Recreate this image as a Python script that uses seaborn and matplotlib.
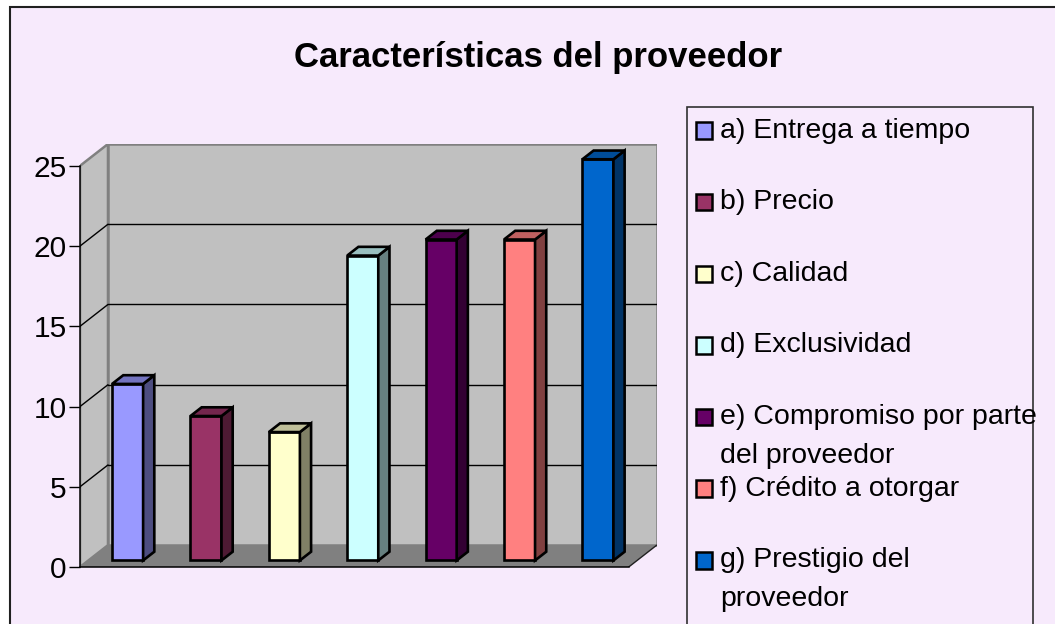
import matplotlib
matplotlib.use("Agg")
import matplotlib.pyplot as plt
from matplotlib.patches import Rectangle, Polygon
from matplotlib.colors import to_rgb
import numpy as np
import pandas as pd
import seaborn as sns

# ---------------- data ----------------
categories = ["a) Entrega a tiempo", "b) Precio", "c) Calidad", "d) Exclusividad",
              "e) Compromiso por parte del proveedor", "f) Crédito a otorgar",
              "g) Prestigio del proveedor"]
legend_labels = ["a) Entrega a tiempo", "b) Precio", "c) Calidad", "d) Exclusividad",
                 "e) Compromiso por parte\ndel proveedor", "f) Crédito a otorgar",
                 "g) Prestigio del\nproveedor"]
values = [11, 9, 8, 19, 20, 20, 25]
bar_colors = ["#9999FF", "#993366", "#FFFFCC", "#CCFFFF", "#660066", "#FF8080", "#0066CC"]
yticks = [0, 5, 10, 15, 20, 25]
title = "Características del proveedor"

# ---------------- style ----------------
W, H = 1055, 624
BG = "#F7EAFC"
sns.set_style("white")
plt.rcParams["font.family"] = ["Liberation Sans", "DejaVu Sans"]

fig = plt.figure(figsize=(W / 100, H / 100), dpi=100, facecolor="white")


def fx(px):
    return px / W


def fy(py):
    return 1 - py / H


# chart area with border
fig.patches.append(Rectangle((fx(9.5), fy(660)), fx(1100 - 9.5), (660 - 6.5) / H,
                             transform=fig.transFigure, facecolor=BG,
                             edgecolor="#202020", lw=1.5, zorder=-5))

# 3D-like plot box
ax = fig.add_axes([fx(80), fy(567), (656.7 - 80) / W, (567 - 144) / H])
ax.set_facecolor("none")
ax.set_zorder(2)
NCAT = len(categories)
DX, DY = 0.357, 1.36        # full depth offset (data units)
F0, F1 = 0.30, 0.70          # bar depth range (fraction of full depth)
TOP = max(yticks)
x0, x1 = -0.5, NCAT - 0.5
EDGE_LW = 1.9

df = pd.DataFrame({"cat": categories, "val": values})
sns.barplot(data=df, x="cat", y="val", hue="cat", palette=bar_colors, saturation=1,
            width=0.396, edgecolor="black", linewidth=EDGE_LW, legend=False, ax=ax,
            zorder=3)

bars = [b for cont in ax.containers for b in cont]
for b, c in zip(bars, bar_colors):
    b.set_x(b.get_x() + F0 * DX)
    b.set_y(F0 * DY)
    b.set_joinstyle("miter")
    xl = b.get_x()
    xr = xl + b.get_width()
    yb = b.get_y()
    yt = yb + b.get_height()
    ddx, ddy = (F1 - F0) * DX, (F1 - F0) * DY
    rgb = np.array(to_rgb(c))
    side = Polygon([(xr, yb), (xr + ddx, yb + ddy), (xr + ddx, yt + ddy), (xr, yt)],
                   closed=True, fc=rgb * 0.5, ec="black", lw=EDGE_LW, zorder=3,
                   joinstyle="miter")
    top = Polygon([(xl, yt), (xr, yt), (xr + ddx, yt + ddy), (xl + ddx, yt + ddy)],
                  closed=True, fc=rgb * 0.75, ec="black", lw=EDGE_LW, zorder=3,
                  joinstyle="miter")
    ax.add_patch(side)
    ax.add_patch(top)

# walls and floor
ax.add_patch(Polygon([(x0, 0), (x0, TOP), (x0 + DX, TOP + DY), (x0 + DX, DY)],
                     closed=True, fc="#C0C0C0", ec="#808080", lw=1.8, zorder=0))
ax.add_patch(Polygon([(x0 + DX, DY), (x1 + DX, DY), (x1 + DX, TOP + DY), (x0 + DX, TOP + DY)],
                     closed=True, fc="#C0C0C0", ec="#808080", lw=1.8, zorder=0))
ax.add_patch(Polygon([(x0, 0), (x1, 0), (x1 + DX, DY), (x0 + DX, DY)],
                     closed=True, fc="#808080", ec="none", zorder=0.5))
ax.plot([x1, x1 + DX], [0, DY], color="#202020", lw=1.0, zorder=1)
for t in yticks[1:-1]:
    ax.plot([x0 + DX, x1 + DX], [t + DY, t + DY], color="black", lw=1.0, zorder=1)
    ax.plot([x0, x0 + DX], [t, t + DY], color="black", lw=1.0, zorder=1)

ax.set_xlim(x0, x1 + DX)
ax.set_ylim(0, TOP + DY)
ax.set_xticks([])
ax.set_xlabel("")
ax.set_ylabel("")
ax.set_yticks(yticks)
ax.set_yticklabels([str(t) for t in yticks])
ax.tick_params(axis="y", length=8, width=1, direction="out", pad=1.5,
               labelsize=21.5, color="black", labelcolor="black", left=True)
for s in ["top", "right"]:
    ax.spines[s].set_visible(False)
ax.spines["left"].set_bounds(0, TOP)
ax.spines["bottom"].set_bounds(x0, x1)
for s in ["left", "bottom"]:
    ax.spines[s].set_color("black")
    ax.spines[s].set_linewidth(1.1)

# title
fig.text(fx(538.5), fy(66.7), title, ha="center", va="baseline",
         fontsize=25, fontweight="bold", color="black")

# legend (manual, Excel-like fixed slots)
fig.patches.append(Rectangle((fx(687), fy(660)), (1032.7 - 687) / W, (660 - 106.7) / H,
                             transform=fig.transFigure, fc="none", ec="#303030",
                             lw=1.2, zorder=1))
for i, (lab, c) in enumerate(zip(legend_labels, bar_colors)):
    cy = 130.5 + i * 71.65
    fig.patches.append(Rectangle((fx(695.7), fy(cy + 8.3)), 16.6 / W, 16.6 / H,
                                 transform=fig.transFigure, fc=c, ec="black",
                                 lw=1.8, zorder=2))
    for j, line in enumerate(lab.split("\n")):
        fig.text(fx(720), fy(cy + 7 + j * 38.5), line, fontsize=20.5,
                 ha="left", va="baseline", color="black")

fig.savefig("out.png", dpi=100, facecolor=fig.get_facecolor())
